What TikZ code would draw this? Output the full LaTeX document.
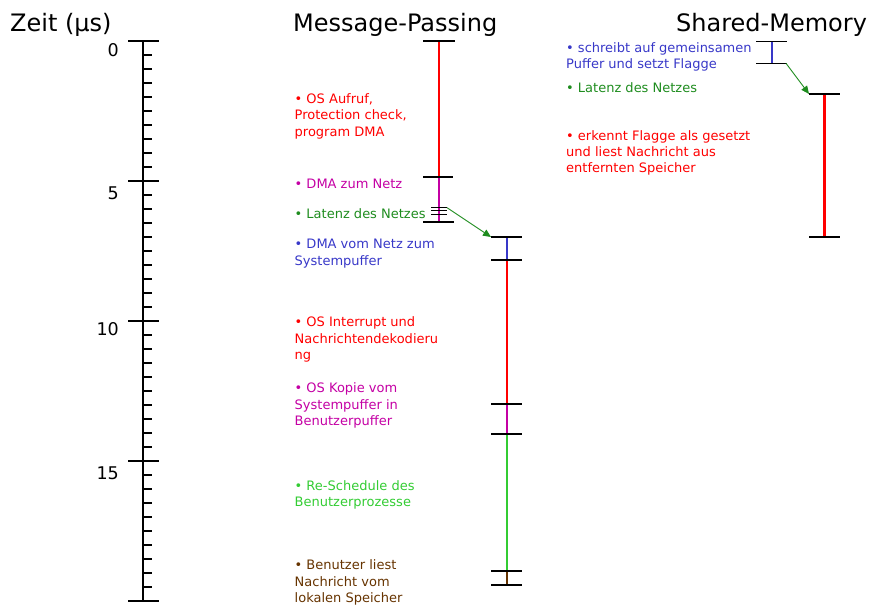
\documentclass[tikz,border=0pt]{standalone}
\usepackage{fontspec}
\setmainfont{DejaVu Sans}
\usetikzlibrary{arrows.meta}
\definecolor{cred}{HTML}{FF0000}
\definecolor{cmag}{HTML}{C400A4}
\definecolor{cdgreen}{HTML}{1E8C1E}
\definecolor{cblue}{HTML}{3838C8}
\definecolor{clgreen}{HTML}{33CC33}
\definecolor{cbrown}{HTML}{663300}
\begin{document}
% multi-line labels are anchored at the baseline of their last line
\begin{tikzpicture}[x=1pt,y=-1pt,
  txt/.style={anchor=base west, inner sep=0pt, align=left, font=\fontsize{13}{16.5}\selectfont},
  stxt/.style={txt, font=\fontsize{13}{16}\selectfont},
  heading/.style={anchor=base west, inner sep=0pt, font=\fontsize{24}{28}\selectfont},
  num/.style={anchor=base east, inner sep=0pt, font=\fontsize{17.5}{20}\selectfont},
  bar/.style={line width=2pt},
  wbar/.style={line width=3pt},
  tick/.style={line width=1.1pt, black},
  btick/.style={line width=2pt, black},
  link/.style={draw=cdgreen, line width=0.9pt, -{Triangle[length=8pt,width=7pt]}}
]
\useasboundingbox (0,0) rectangle (870,605);

% headings
\node[heading] (tz) at (10,31) {Zeit (µs)};
\node[heading] (tm) at (293,31) {Message-Passing};
\node[heading] (ts) at (676,31) {Shared-Memory};

% time axis: 28 units per microsecond, ticks every 0.5
\coordinate (ax0) at (143,41);
\coordinate (ax1) at (143,601);
\draw[line width=1.3pt] (ax0) -- (ax1);
\foreach \k in {1,...,39}{
  \draw[tick] (143,41+14*\k) -- (152,41+14*\k);
}
\foreach \k in {0,...,4}{
  \draw[tick] (128,41+140*\k) -- (159,41+140*\k);
}
\node[num] (n0) at (119,56.7) {0};
\node[num] (n5) at (119,199.5) {5};
\node[num] (n10) at (119,335) {10};
\node[num] (n15) at (119,479.5) {15};

% message passing, sender side
\coordinate (a0) at (439,41);
\coordinate (a1) at (439,177);
\coordinate (a2) at (439,222);
\draw[bar,cred] (a0) -- (a1);
\draw[bar,cmag] (a1) -- (a2);
\draw[tick] (423,41) -- (455,41);
\draw[tick] (423,177) -- (453,177);
\draw[tick] (431,207.7) -- (447,207.7);
\draw[tick] (431,210.9) -- (447,210.9);
\draw[tick] (431,214.3) -- (447,214.3);
\draw[btick] (423,222) -- (454,222);
\coordinate (la) at (447,207.7);

% message passing, receiver side
\coordinate (b0) at (507,237);
\coordinate (b1) at (507,260);
\coordinate (b2) at (507,404);
\coordinate (b3) at (507,434);
\coordinate (b4) at (507,571);
\coordinate (b5) at (507,585);
\draw[bar,cblue] (b0) -- (b1);
\draw[bar,cred] (b1) -- (b2);
\draw[bar,cmag] (b2) -- (b3);
\draw[bar,clgreen] (b3) -- (b4);
\draw[bar,cbrown] (b4) -- (b5);
\draw[tick] (491,237) -- (522,237);
\draw[tick] (491,260) -- (522,260);
\draw[tick] (491,404) -- (522,404);
\draw[btick] (491,434) -- (522,434);
\draw[btick] (491,571) -- (522,571);
\draw[tick] (491,585) -- (522,585);
\coordinate (lb) at (491,237);
\draw[link] (la) -- (lb);

% shared memory
\coordinate (c0) at (772,41.7);
\coordinate (c1) at (772,63.3);
\draw[bar,cblue] (c0) -- (c1);
\draw[tick] (756,41.7) -- (787,41.7);
\draw[tick] (756,63.3) -- (787,63.3);
\coordinate (d0) at (824.5,94);
\coordinate (d1) at (824.5,237);
\draw[wbar,cred] (d0) -- (d1);
\draw[btick] (809,94) -- (840,94);
\draw[tick] (809,237) -- (840,237);
\coordinate (lc) at (786,63.3);
\coordinate (ld) at (809,94);
\draw[link] (lc) -- (ld);

% message passing labels
\node[txt,text=cred] (m1) at (294.5,136) {• OS Aufruf,\\Protection check,\\program DMA};
\node[txt,text=cmag] (m2) at (294.5,188.5) {• DMA zum Netz};
\node[txt,text=cdgreen] (m3) at (294.5,218.5) {• Latenz des Netzes};
\node[txt,text=cblue] (m4) at (294.5,265) {• DMA vom Netz zum\\Systempuffer};
\node[txt,text=cred] (m5) at (294.5,359.7) {• OS Interrupt und\\Nachrichtendekodieru\\ng};
\node[txt,text=cmag] (m6) at (294.5,425.5) {• OS Kopie vom\\Systempuffer in\\Benutzerpuffer};
\node[txt,text=clgreen] (m7) at (294.5,506.5) {• Re-Schedule des\\Benutzerprozesse};
\node[txt,text=cbrown] (m8) at (294.5,602.5) {• Benutzer liest\\Nachricht vom\\lokalen Speicher};

% shared memory labels
\node[stxt,text=cblue] (s1) at (566,68) {• schreibt auf gemeinsamen\\Puffer und setzt Flagge};
\node[stxt,text=cdgreen] (s2) at (566,92.3) {• Latenz des Netzes};
\node[stxt,text=cred] (s3) at (566,172) {• erkennt Flagge als gesetzt\\und liest Nachricht aus\\entfernten Speicher};
\end{tikzpicture}
\end{document}
